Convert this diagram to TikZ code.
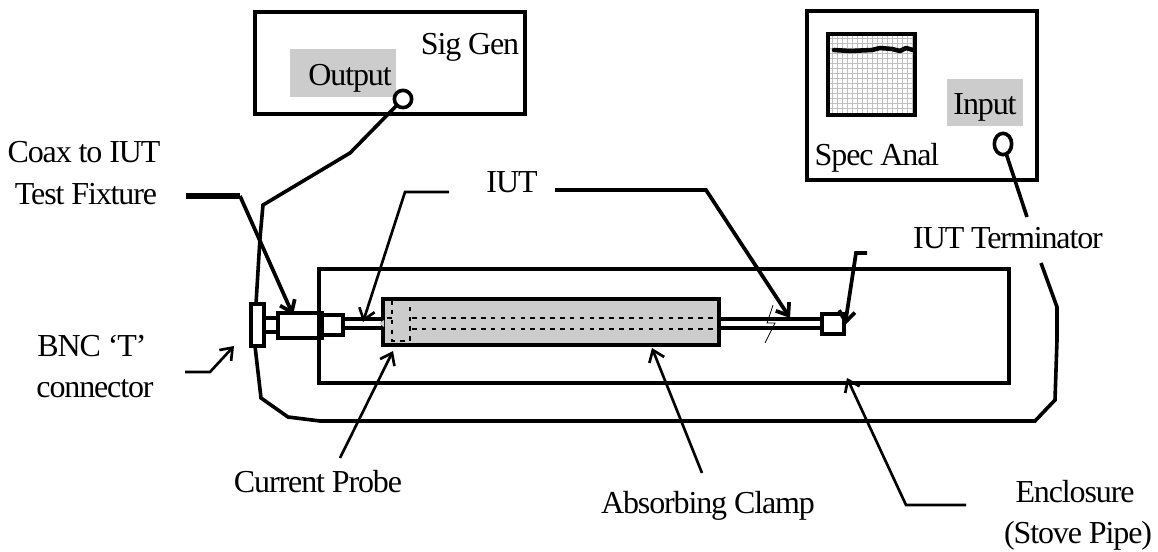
\documentclass[tikz,border=0pt]{standalone}
\usepackage{fontspec}
\setmainfont[LetterSpace=-3.5]{Liberation Serif}
\usetikzlibrary{arrows.meta,shapes.geometric}
\definecolor{panelgray}{gray}{0.8}
\newcommand{\pxbox}[6]{\node[#2,minimum width=\fpeval{(#5-#3)*0.75}pt,minimum height=\fpeval{(#6-#4)*0.75}pt] (#1) at ({(#3+#5)/2},{(#4+#6)/2}) {};}
\tikzset{
  frame/.style={draw=black,line width=2.7pt,inner sep=0pt,outer sep=0pt,fill=white},
  openframe/.style={draw=black,line width=2.7pt,inner sep=0pt,outer sep=0pt},
  clampbody/.style={draw=black,line width=2.7pt,inner sep=0pt,outer sep=0pt,fill=panelgray},
  panel/.style={fill=panelgray,inner sep=0pt,outer sep=0pt},
  jack/.style={draw=black,line width=2.7pt,inner sep=0pt,outer sep=0pt,circle,minimum size=#1},
  lbl/.style={font=\fontsize{24pt}{26pt}\selectfont,inner sep=0pt,anchor=base},
  cable/.style={line width=2.7pt,line join=miter},
  wireline/.style={line width=2.7pt},
  dotline/.style={line width=2.2pt,dash pattern=on 3.4pt off 4pt},
  leader/.style={line width=2pt,-{Straight Barb[length=8pt,width=12pt,line width=2pt]}},
  heavyleader/.style={line width=2.8pt,-{Straight Barb[length=8pt,width=12pt,line width=2.8pt]}},
  gridline/.style={draw=gray!50,line width=0.7pt},
}
\begin{document}
\begin{tikzpicture}[x=0.75pt,y=-0.75pt]
\useasboundingbox (0,0) rectangle (1158,552);
\fill[white] (0,0) rectangle (1158,552);

% instruments
\pxbox{siggen}{openframe}{255}{12}{525}{114}
\pxbox{outpanel}{panel}{290}{49}{396}{97}
\node[lbl] (outlbl) at (350,86) {Output};
\node[lbl] (siglbl) at (470,55) {Sig Gen};
\node[jack=13pt] (outjack) at (403,99) {};

\pxbox{specan}{openframe}{807}{11}{1037}{180}
\pxbox{inpanel}{panel}{947}{79}{1023}{126}
\node[lbl] (inlbl) at (985,115) {Input};
\node[lbl] (speclbl) at (877,166) {Spec Anal};
\node[draw=black,line width=2.7pt,ellipse,inner sep=0pt,minimum width=13pt,minimum height=16pt,outer sep=0pt] (injack) at (1003,144) {};

% screen
\foreach \gx in {832,837,...,912} {\draw[gridline] (\gx,34) -- (\gx,113);}
\foreach \gy in {38,43,...,112} {\draw[gridline] (828,\gy) -- (914,\gy);}
\pxbox{screen}{openframe}{828}{34}{915}{115}
\draw[line width=3.4pt,line cap=round,line join=round] (834,50) -- (850,51) -- (872,50) -- (880,48) -- (892,49) -- (900,51) -- (906,48) -- (913,50);

% enclosure
\pxbox{enclosure}{openframe}{319}{269}{1009}{383}

% coax cable
\coordinate (a1) at (350,153);
\coordinate (a2) at (263,205);
\coordinate (a3) at (260,238);
\coordinate (a4) at (256,304);
\coordinate (b1) at (1027,217);
\coordinate (b2) at (1041,263);
\coordinate (b3) at (1057,307);
\coordinate (b4) at (1057,340);
\coordinate (b5) at (1055,400);
\coordinate (b6) at (1035,421);
\coordinate (b7) at (320,421);
\coordinate (b8) at (288,417);
\coordinate (b9) at (261,398);
\coordinate (b10) at (255,346);
\draw[cable] (outjack) -- (a1) -- (a2) -- (a3) -- (a4);
\draw[cable] (injack) -- (b1);
\draw[cable] (b2) -- (b3) -- (b4) -- (b5) -- (b6) -- (b7) -- (b8) -- (b9) -- (b10);

% connector chain
\pxbox{tee}{frame}{251}{304}{264}{346}
\pxbox{teeneck}{frame}{264}{318}{279}{332}
\pxbox{bnc}{frame}{278}{313}{322}{338}
\pxbox{adapter}{frame}{322}{315}{343}{335}
\draw[line width=4pt] (320,313) -- (320,338);

% IUT wire left
\coordinate (wl1) at (343,319);
\coordinate (wl2) at (343,328);
\coordinate (wl3) at (383,319);
\coordinate (wl4) at (383,328);
\draw[wireline] (wl1) -- (wl3);
\draw[wireline] (wl2) -- (wl4);

% clamp
\pxbox{clamp}{clampbody}{383}{299}{719}{345}
\fill[panelgray] (379,323.5) -- (384,320) -- (384,327) -- cycle;
\draw[dotline] (392,300) -- (392,341) -- (410,341) -- (410,300);
\draw[dotline] (392,318) -- (384,318);
\draw[dotline] (412,318) -- (718,318);
\draw[dotline] (412,329) -- (718,329);

% IUT wire right
\coordinate (wr1) at (719,319);
\coordinate (wr2) at (719,328);
\coordinate (wr3) at (822,319);
\coordinate (wr4) at (822,328);
\draw[wireline] (wr1) -- (wr3);
\draw[wireline] (wr2) -- (wr4);
\pxbox{term}{frame}{822}{314}{844}{334}
\draw[line width=0.6pt] (773,305) -- (767,323) -- (775,323) -- (765,343);

% labels
\node[lbl] (iutlbl) at (512,193) {IUT};
\node[lbl] (termlbl) at (1008,249) {IUT Terminator};
\node[lbl] (coaxlbl) at (84,163) {Coax to IUT};
\node[lbl] (fixlbl) at (86,205) {Test Fixture};
\node[lbl] (bnclbl) at (92,357) {BNC ‘T’};
\node[lbl] (conlbl) at (95,398) {connector};
\node[lbl] (probelbl) at (318,493) {Current Probe};
\node[lbl] (abslbl) at (708,513) {Absorbing Clamp};
\node[lbl] (enclbl) at (1075,503) {Enclosure};
\node[lbl] (stovelbl) at (1078,543) {(Stove Pipe)};

% leaders
\coordinate (c1) at (186,196);
\coordinate (c2) at (240,196);
\coordinate (c3) at (293,315);
\draw[line width=4pt] (c1) -- (c2);
\draw[heavyleader] (c2) -- (c3);
\coordinate (d1) at (185,372);
\coordinate (d2) at (210,372);
\coordinate (d3) at (234,346);
\draw[leader] (d1) -- (d2) -- (d3);
\coordinate (e1) at (449,192);
\coordinate (e2) at (405,192);
\coordinate (e3) at (363,322);
\draw[leader] (e1) -- (e2) -- (e3);
\coordinate (f1) at (555,190);
\coordinate (f2) at (706,190);
\coordinate (f3) at (790,318);
\draw[heavyleader] (f1) -- (f2) -- (f3);
\coordinate (g1) at (867,253);
\coordinate (g2) at (856,253);
\coordinate (g3) at (845,325);
\draw[heavyleader] (g1) -- (g2) -- (g3);
\coordinate (h1) at (340,458);
\coordinate (h2) at (393,351);
\draw[leader] (h1) -- (h2);
\coordinate (i1) at (702,473);
\coordinate (i2) at (652,348);
\draw[leader] (i1) -- (i2);
\coordinate (j1) at (966,505);
\coordinate (j2) at (906,505);
\coordinate (j3) at (847,378);
\draw[leader] (j1) -- (j2) -- (j3);
\end{tikzpicture}
\end{document}
